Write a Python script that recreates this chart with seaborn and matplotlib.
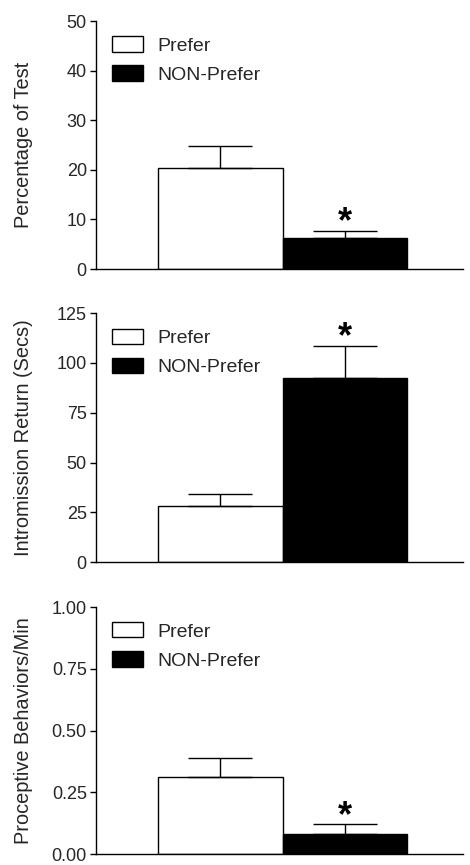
import numpy as np
import pandas as pd
import matplotlib
matplotlib.use("Agg")
import matplotlib.pyplot as plt
import seaborn as sns

# Data (mean and upper SEM)
groups = ["Prefer", "NON-Prefer"]
bar_colors = ["white", "black"]

pct_test = [20.3, 6.3]
pct_test_sem = [4.6, 1.4]

intro_return = [28.3, 92.5]
intro_return_sem = [6.0, 16.1]

proceptive = [0.31, 0.08]
proceptive_sem = [0.077, 0.04]

ylabels = ["Percentage of Test", "Intromission Return (Secs)", "Proceptive Behaviors/Min"]
yticks = [[0, 10, 20, 30, 40, 50],
          [0, 25, 50, 75, 100, 125],
          [0.0, 0.25, 0.5, 0.75, 1.0]]
yticklabels = [["0", "10", "20", "30", "40", "50"],
               ["0", "25", "50", "75", "100", "125"],
               ["0.00", "0.25", "0.50", "0.75", "1.00"]]
signif = ["NON-Prefer", "NON-Prefer", "NON-Prefer"]

sns.set_style("ticks")
plt.rcParams["font.family"] = ["Liberation Sans", "DejaVu Sans"]

fig = plt.figure(figsize=(4.7, 8.65), dpi=100)

# axes boxes in figure fraction [left, bottom, width, height]
boxes = [[0.204, 0.689, 0.781, 0.2867],
         [0.204, 0.350, 0.781, 0.288],
         [0.204, 0.0127, 0.781, 0.2855]]

panels = [(pct_test, pct_test_sem), (intro_return, intro_return_sem), (proceptive, proceptive_sem)]

for i, (vals, sems) in enumerate(panels):
    ax = fig.add_axes(boxes[i])
    df = pd.DataFrame({"group": groups, "value": vals})
    sns.barplot(data=df, x="group", y="value", hue="group", palette=bar_colors,
                width=1.0, edgecolor="black", linewidth=1.0, errorbar=None,
                legend=False, ax=ax)
    # upper error bars only
    ax.errorbar(x=np.arange(len(groups)), y=vals, yerr=[np.zeros(len(sems)), sems],
                fmt="none", ecolor="black", elinewidth=1.0, capsize=23, capthick=1.0, zorder=3)

    # significance star
    j = groups.index(signif[i])
    ax.annotate("*", xy=(j, vals[j] + sems[j]), xytext=(0, -1), textcoords="offset points",
                ha="center", va="baseline", fontsize=26, fontweight="bold", color="black")

    ax.set_xlim(-1.0, 1.95)
    ax.set_ylim(yticks[i][0], yticks[i][-1])
    ax.set_yticks(yticks[i])
    ax.set_yticklabels(yticklabels[i])
    ax.set_xticks([])
    ax.set_xlabel("")
    ax.set_ylabel(ylabels[i], fontsize=14.4)
    ax.yaxis.set_label_coords(-0.17, 0.5)
    ax.tick_params(axis="y", direction="out", length=4.5, width=1.0, labelsize=13, pad=2, color="black")

    for side in ["top", "right"]:
        ax.spines[side].set_visible(False)
    for side in ["left", "bottom"]:
        ax.spines[side].set_color("black")
        ax.spines[side].set_linewidth(1.0)

    handles = ax.patches[:len(groups)]
    ax.legend(handles, groups, loc="upper left", bbox_to_anchor=(0.0436, 0.938),
              frameon=False, fontsize=14, borderpad=0, borderaxespad=0,
              handlelength=1.6, handleheight=0.82, handletextpad=0.72, labelspacing=0.55)

fig.savefig("out.png", dpi=100)
